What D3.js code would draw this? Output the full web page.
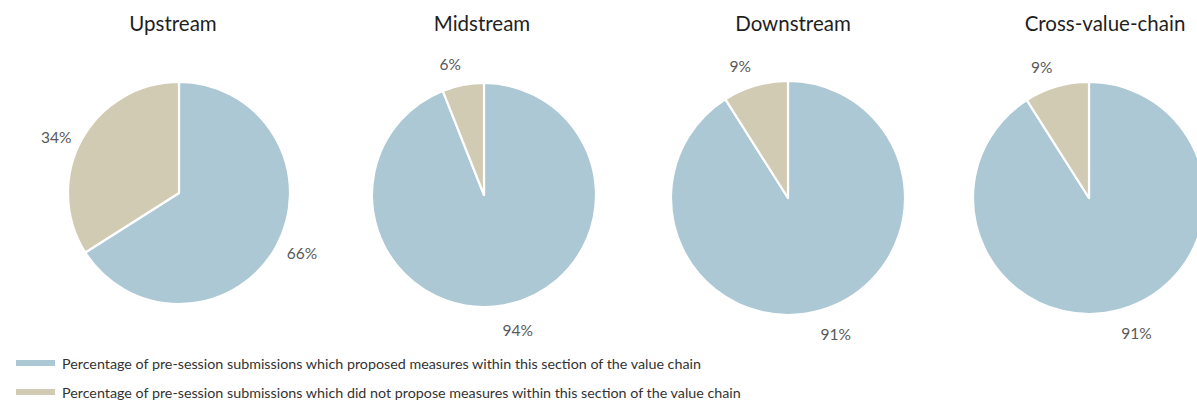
<!DOCTYPE html>
<html>
<head>
<meta charset="utf-8">
<script src="https://cdn.jsdelivr.net/npm/d3@7"></script>
<style>
  html, body { margin: 0; padding: 0; background: #fff; }
  svg { display: block; }
</style>
</head>
<body>
<svg id="chart" width="1197" height="401"></svg>
<script>
// Value-chain sections and the share of submissions (percent)
const sections = ["Upstream", "Midstream", "Downstream", "Cross-value-chain"];
const proposed = [66, 94, 91, 91];
const notProposed = [34, 6, 9, 9];
const seriesNames = [
  "Percentage of pre-session submissions which proposed measures within this section of the value chain",
  "Percentage of pre-session submissions which did not propose measures within this section of the value chain"
];

// Layout of the four pies
const centersX = [179, 484, 788, 1089];
const centersY = [193, 195, 198, 198];
const radii = [111, 112, 117, 116];
const titleX = [173, 482, 793, 1105];

const colors = ["#abc8d4", "#d2cbb4"];
const font = "Lato, 'Open Sans', sans-serif";

const svg = d3.select("#chart");
const color = d3.scaleOrdinal().domain([0, 1]).range(colors);
const pie = d3.pie().sort(null).value(d => d.value);

// Outside-end label position: a little beyond the rim, nudged counter-clockwise
function labelPos(d, r) {
  const a = (d.startAngle + d.endAngle) / 2 - 0.06;
  const R = r + 25;
  return [R * Math.sin(a), -R * Math.cos(a) + 2];
}

sections.forEach((name, i) => {
  const r = radii[i];
  const g = svg.append("g")
    .attr("transform", `translate(${centersX[i]},${centersY[i]})`);

  const slices = pie([
    { key: 0, value: proposed[i] },
    { key: 1, value: notProposed[i] }
  ]);

  const arc = d3.arc().innerRadius(0).outerRadius(r);

  g.selectAll("path")
    .data(slices)
    .join("path")
    .attr("d", arc)
    .attr("fill", d => color(d.data.key))
    .attr("stroke", "#fff")
    .attr("stroke-width", 2.2)
    .attr("stroke-linejoin", "round");

  g.selectAll("text.val")
    .data(slices)
    .join("text")
    .attr("class", "val")
    .attr("transform", d => `translate(${labelPos(d, r)})`)
    .attr("text-anchor", "middle")
    .attr("dominant-baseline", "central")
    .attr("font-family", font)
    .attr("font-size", 15.5)
    .attr("fill", "#595959")
    .text(d => d.data.value + "%");

  svg.append("text")
    .attr("x", titleX[i])
    .attr("y", 31)
    .attr("text-anchor", "middle")
    .attr("font-family", font)
    .attr("font-size", 20.5)
    .attr("fill", "#1f1f1f")
    .text(name);
});

// Legend
const legend = svg.append("g").attr("transform", "translate(16,363)");
seriesNames.forEach((label, i) => {
  const row = legend.append("g").attr("transform", `translate(0,${i * 29})`);
  row.append("rect")
    .attr("x", 0).attr("y", -3)
    .attr("width", 39).attr("height", 6)
    .attr("fill", colors[i]);
  row.append("text")
    .attr("x", 46).attr("y", 0)
    .attr("dominant-baseline", "central")
    .attr("font-family", font)
    .attr("font-size", 14.3)
    .attr("fill", "#333")
    .text(label);
});
</script>
</body>
</html>
